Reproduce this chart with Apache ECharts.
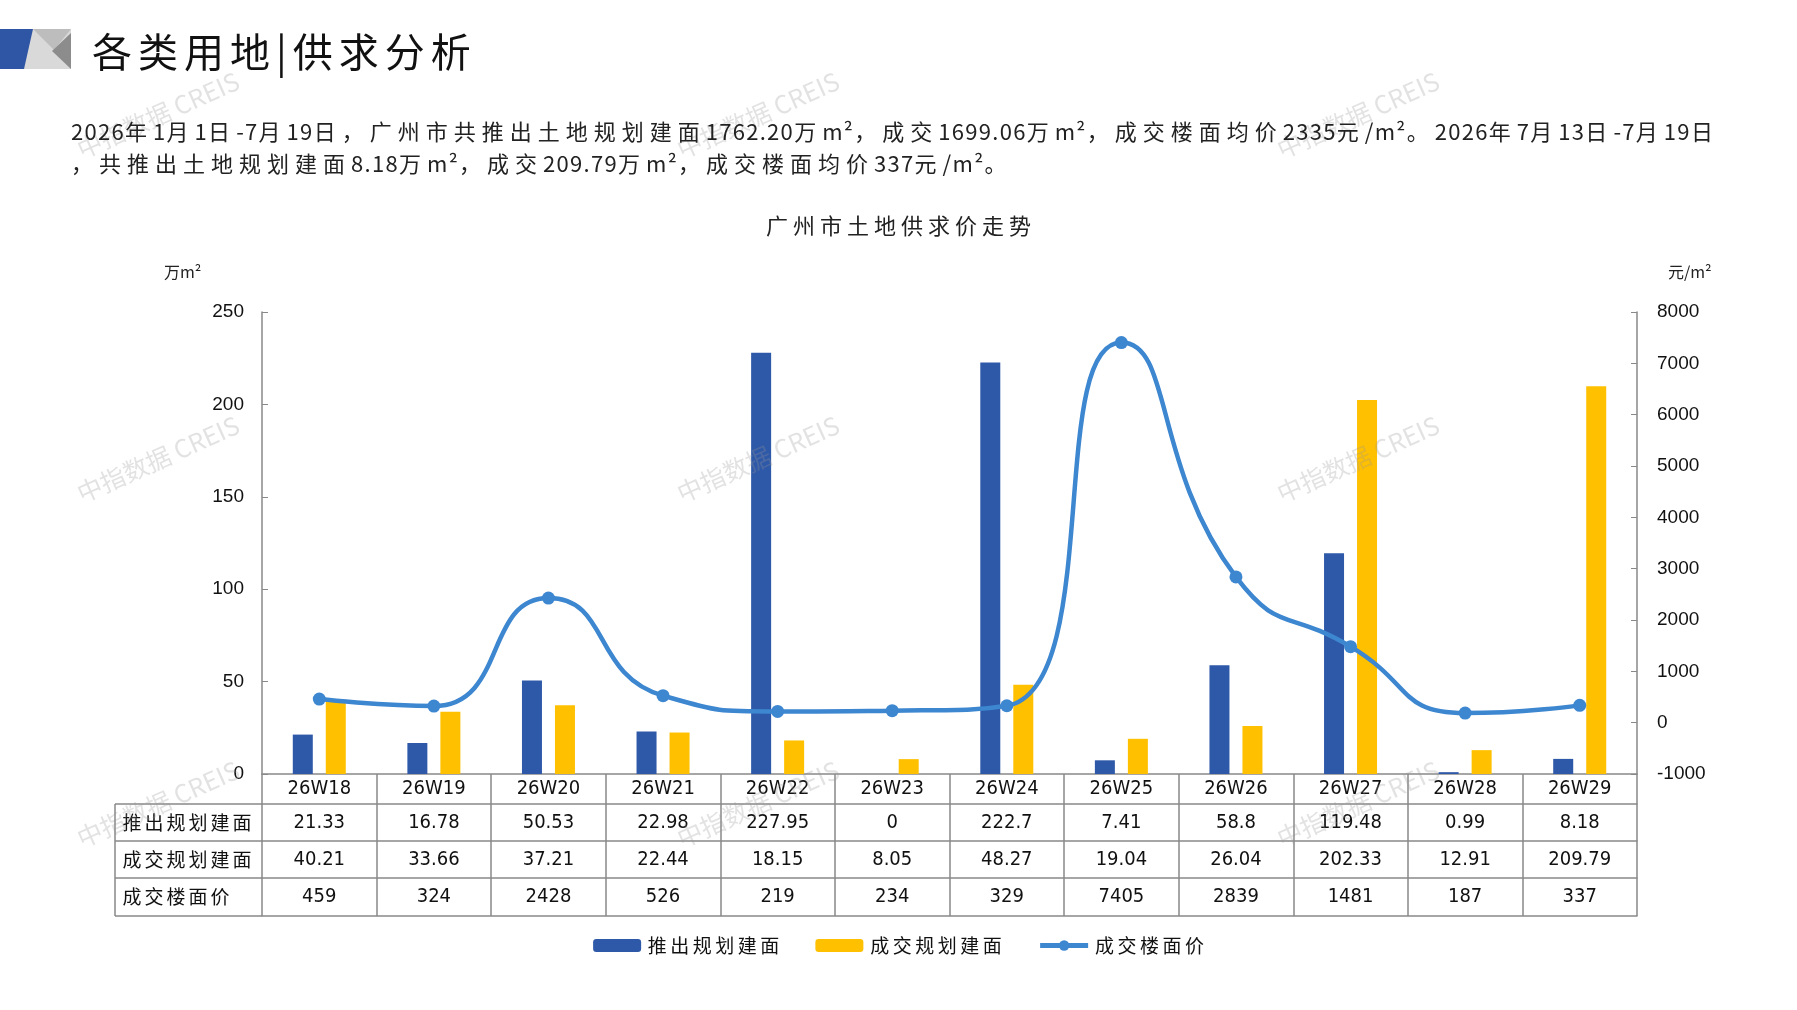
<!DOCTYPE html>
<html>
<head>
<meta charset="utf-8">
<title>广州市土地供求价走势</title>
<script src="https://cdn.jsdelivr.net/npm/echarts@6/dist/echarts.min.js"></script>
<style>
  html, body { margin: 0; padding: 0; background: #fff; }
  #wrap { position: relative; width: 1797px; height: 1010px; }
  #main { width: 1797px; height: 1010px; }
  .head { position: absolute; font-family: 'Noto Sans CJK SC', sans-serif; color: #111; white-space: nowrap; }
  #title { left: 92px; top: 22px; font-size: 40px; line-height: 56px; letter-spacing: 6px; }
  #desc { left: 71px; top: 114px; font-size: 22px; line-height: 32px; letter-spacing: 6px; color: #222; }
  #desc .n { letter-spacing: 1.3px; }
</style>
</head>
<body>
<div id="wrap">
  <div id="main"></div>
  <div class="head" id="title">各类用地|供求分析</div>
  <div class="head" id="desc"></div>
</div>
<script>
// 数据
var weeks = ['26W18', '26W19', '26W20', '26W21', '26W22', '26W23', '26W24', '26W25', '26W26', '26W27', '26W28', '26W29'];
var supply = [21.33, 16.78, 50.53, 22.98, 227.95, 0, 222.7, 7.41, 58.8, 119.48, 0.99, 8.18];
var deal = [40.21, 33.66, 37.21, 22.44, 18.15, 8.05, 48.27, 19.04, 26.04, 202.33, 12.91, 209.79];
var price = [459, 324, 2428, 526, 219, 234, 329, 7405, 2839, 1481, 187, 337];
var rowNames = ['推出规划建面', '成交规划建面', '成交楼面价'];
var descLines = [
    '2026年1月1日-7月19日，广州市共推出土地规划建面1762.20万m²，成交1699.06万m²，成交楼面均价2335元/m²。2026年7月13日-7月19日',
    '，共推出土地规划建面8.18万m²，成交209.79万m²，成交楼面均价337元/m²。'
];

// 页眉说明：数字部分字距小一些
document.getElementById('desc').innerHTML = descLines.map(function (s) {
    return s.replace(/[0-9.\-\/m²]+/g, function (m) { return '<span class="n">' + m + '</span>'; });
}).join('<br>');

var CN = "'Noto Sans CJK SC', sans-serif";
var NUM = "'Liberation Sans Narrow', 'DejaVu Sans Condensed', 'Noto Sans CJK SC', sans-serif";
var lineCol = '#898989';

var gridL = 262, gridR = 160, gridT = 312, gridB = 236;
var rowLines = [774, 804, 841, 878, 916]; // 表格横线

// 逐字等宽排布，模拟原图的字距
function spaced(s) {
    return s.split('').map(function (c) { return '{c|' + c + '}'; }).join('');
}

var myChart = echarts.init(document.getElementById('main'));

// 表格的一行：一根带偏移的类目轴
function tableAxis(offset, height, values, showLabel) {
    return {
        type: 'category',
        data: weeks,
        position: 'bottom',
        offset: offset,
        axisLine: { show: true, onZero: false, lineStyle: { color: lineCol, width: 1.5 } },
        axisTick: { show: height > 0, interval: 0, length: height, lineStyle: { color: lineCol, width: 1.5 } },
        axisLabel: {
            show: showLabel,
            interval: 0,
            margin: height / 2,
            verticalAlign: 'middle',
            color: '#111',
            fontSize: 20,
            fontFamily: NUM,
            formatter: function (v, i) { return values ? String(values[i]) : v; }
        },
        splitLine: { show: false }
    };
}

var xAxes = [
    tableAxis(0, rowLines[1] - rowLines[0], null, true),
    tableAxis(rowLines[1] - rowLines[0], rowLines[2] - rowLines[1], supply, true),
    tableAxis(rowLines[2] - rowLines[0], rowLines[3] - rowLines[2], deal, true),
    tableAxis(rowLines[3] - rowLines[0], rowLines[4] - rowLines[3], price, true),
    tableAxis(rowLines[4] - rowLines[0], 0, null, false)
];

// 行标题和左侧表格线
var graphics = [];
var hdrL = 115;
for (var r = 1; r < rowLines.length; r++) {
    graphics.push({
        type: 'line', shape: { x1: hdrL, y1: rowLines[r], x2: gridL, y2: rowLines[r] },
        style: { stroke: lineCol, lineWidth: 1.5 }
    });
}
graphics.push({
    type: 'line', shape: { x1: hdrL, y1: rowLines[1], x2: hdrL, y2: rowLines[4] },
    style: { stroke: lineCol, lineWidth: 1.5 }
});
rowNames.forEach(function (n, i) {
    graphics.push({
        type: 'text', x: 121, y: (rowLines[i + 1] + rowLines[i + 2]) / 2,
        style: {
            text: spaced(n), fontFamily: CN, fill: '#111', verticalAlign: 'middle',
            rich: { c: { fontSize: 19, fontFamily: CN, color: '#111', width: 22, align: 'center' } }
        }
    });
});

// 左上角图标
graphics.push(
    { type: 'rect', shape: { x: 0, y: 29, width: 71, height: 40 }, style: { fill: '#d9d9d9' } },
    { type: 'polygon', shape: { points: [[0, 29], [33, 29], [24, 69], [0, 69]] }, style: { fill: '#2F55A5' } },
    { type: 'polygon', shape: { points: [[33, 29], [71, 29], [54, 50]] }, style: { fill: '#bdbdbd' } },
    { type: 'polygon', shape: { points: [[71, 33], [71, 69], [52, 51]] }, style: { fill: '#8c8c8c' } },
    { type: 'text', left: 164, top: 264, style: { text: '万m²', fontSize: 16, fontFamily: CN, fill: '#222' } },
    { type: 'text', left: 1668, top: 264, style: { text: '元/m²', fontSize: 16, fontFamily: CN, fill: '#222' } }
);

// 水印
[[158, 115], [758, 115], [1358, 115], [158, 459], [758, 459], [1358, 459], [158, 804], [758, 804], [1358, 804]].forEach(function (p) {
    graphics.push({
        type: 'text', x: p[0], y: p[1], rotation: 0.42, z: 100,
        style: {
            text: '中指数据 CREIS', fontSize: 25, fontFamily: CN, fill: 'rgba(150,150,150,0.28)',
            align: 'center', verticalAlign: 'middle'
        }
    });
});

var option = {
    backgroundColor: '#fff',
    animation: false,
    title: {
        text: spaced('广州市土地供求价走势'),
        left: 'center',
        top: 210,
        textStyle: {
            fontSize: 22, fontWeight: 'normal', fontFamily: CN, color: '#222',
            rich: { c: { fontSize: 22, fontFamily: CN, color: '#222', width: 27, align: 'center' } }
        }
    },
    legend: {
        bottom: 50,
        left: 'center',
        itemWidth: 48,
        itemHeight: 13,
        itemGap: 36,
        formatter: function (n) { return spaced(n); },
        textStyle: {
            fontSize: 19, fontFamily: CN, color: '#111',
            rich: { c: { fontSize: 19, fontFamily: CN, color: '#111', width: 22.5, align: 'center' } }
        },
        data: ['推出规划建面', '成交规划建面', { name: '成交楼面价', lineStyle: { width: 5 } }]
    },
    grid: { left: gridL, right: gridR, top: gridT, bottom: gridB },
    xAxis: xAxes,
    yAxis: [
        {
            type: 'value', min: 0, max: 250, interval: 50,
            axisLine: { show: true, lineStyle: { color: lineCol, width: 1.5 } },
            axisTick: { show: true, inside: true, length: 6, lineStyle: { color: lineCol } },
            axisLabel: { margin: 18, fontSize: 19, color: '#111', fontFamily: 'Liberation Sans, Arial, sans-serif' },
            splitLine: { show: false }
        },
        {
            type: 'value', min: -1000, max: 8000, interval: 1000,
            axisLine: { show: true, lineStyle: { color: lineCol, width: 1.5 } },
            axisTick: { show: true, inside: true, length: 6, lineStyle: { color: lineCol } },
            axisLabel: {
                margin: 20, fontSize: 19, color: '#111', fontFamily: 'Liberation Sans, Arial, sans-serif',
                formatter: function (v) { return String(v); }
            },
            splitLine: { show: false }
        }
    ],
    series: [
        {
            name: '推出规划建面', type: 'bar', xAxisIndex: 0, yAxisIndex: 0,
            barWidth: 20, barGap: '65%',
            itemStyle: { color: '#2E58A8' },
            data: supply
        },
        {
            name: '成交规划建面', type: 'bar', xAxisIndex: 0, yAxisIndex: 0,
            barWidth: 20, barGap: '65%',
            itemStyle: { color: '#FFC000' },
            data: deal
        },
        {
            name: '成交楼面价', type: 'line', xAxisIndex: 0, yAxisIndex: 1,
            smooth: 0.55, symbol: 'circle', symbolSize: 13, z: 5,
            lineStyle: { color: '#3D86D0', width: 4.5 },
            itemStyle: { color: '#3D86D0' },
            data: price
        }
    ],
    graphic: graphics
};
myChart.setOption(option);
</script>
</body>
</html>
